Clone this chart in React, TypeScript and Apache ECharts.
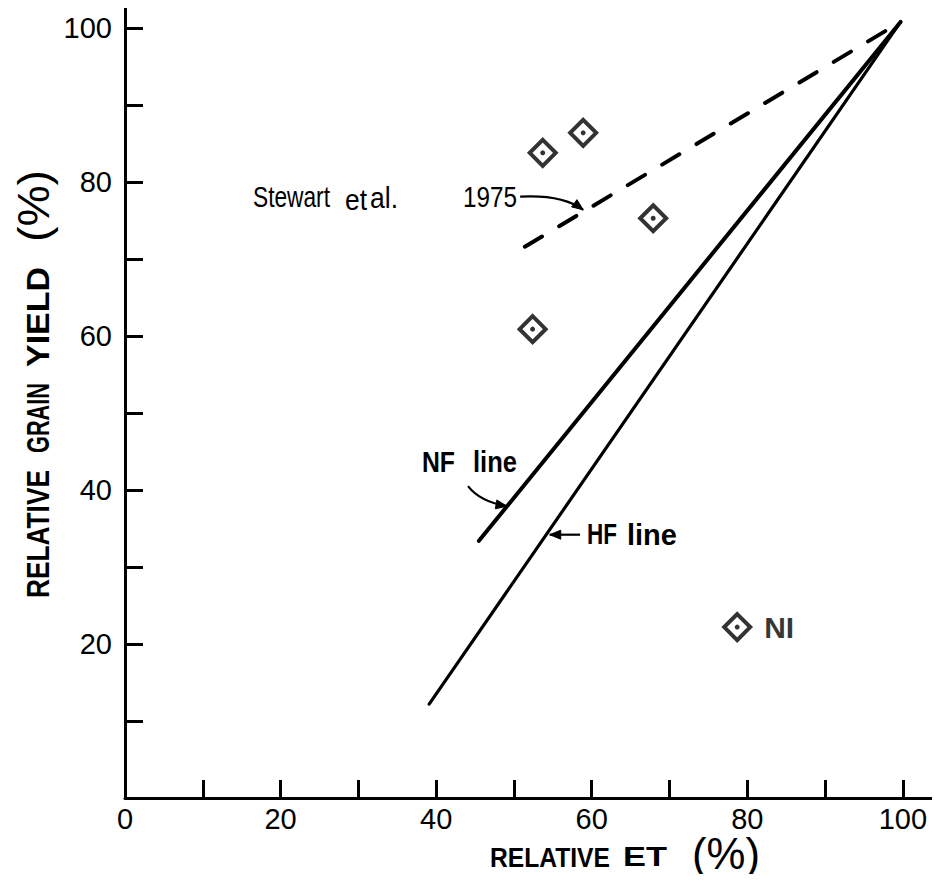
import { useEffect, useRef } from "react";
import * as echarts from "echarts";

// Axis ticks and labels (percent)
const X_TICKS = [10, 20, 30, 40, 50, 60, 70, 80, 90, 100];
const X_LABELS = [0, 20, 40, 60, 80, 100];
const Y_TICKS = [10, 20, 30, 40, 50, 60, 70, 80, 90, 100];
const Y_LABELS = [20, 40, 60, 80, 100];

// Observed relative ET vs relative grain yield
const observed: [number, number][] = [
  [53.7, 83.8],
  [58.9, 86.4],
  [67.9, 75.3],
  [52.4, 60.9],
];
const niPoint: [number, number][] = [[78.7, 22.2]];

// Reference lines
const stewartLine: [number, number][] = [
  [51.4, 71.6],
  [99.7, 100.8],
];
const nfLine: [number, number][] = [
  [45.5, 33.4],
  [99.7, 100.8],
];
const hfLine: [number, number][] = [
  [39.1, 12.2],
  [99.7, 100.8],
];

// Annotation anchors in data units: [start, control, end]
const stewartArrow: [number, number][] = [
  [50.8, 78.1],
  [56.2, 78.4],
  [58.9, 76.4],
];
const nfArrow: [number, number][] = [
  [44.1, 40.5],
  [45.6, 38.5],
  [49.1, 37.9],
];
const hfArrow: [number, number][] = [
  [58.5, 34.2],
  [56.5, 34.2],
  [54.6, 34.2],
];

const FONT = '"Liberation Sans", Arial, sans-serif';

const measureCtx = document.createElement("canvas").getContext("2d")!;
function fitScale(text: string, font: string, width: number) {
  measureCtx.font = font;
  const w = measureCtx.measureText(text).width;
  return w > 0 ? width / w : 1;
}

// A word squeezed horizontally to a given width, keeping its height
function word(
  text: string,
  x: number,
  y: number,
  width: number,
  size: number,
  weight: string,
  rotation = 0
) {
  const font = `${weight} ${size}px ${FONT}`;
  return {
    type: "text",
    x,
    y,
    rotation,
    scaleX: fitScale(text, font, width),
    scaleY: 1,
    silent: true,
    style: {
      text,
      font,
      fill: "#000",
      textAlign: "left",
      textVerticalAlign: "middle",
      align: "left",
      verticalAlign: "middle",
    },
  };
}

function arrowHead(tip: number[], from: number[], len = 11, half = 4.5) {
  const dx = tip[0] - from[0];
  const dy = tip[1] - from[1];
  const d = Math.hypot(dx, dy) || 1;
  const ux = dx / d;
  const uy = dy / d;
  const bx = tip[0] - ux * len;
  const by = tip[1] - uy * len;
  return [
    [tip[0], tip[1]],
    [bx - uy * half, by + ux * half],
    [bx + uy * half, by - ux * half],
  ];
}

export default function App() {
  const ref = useRef<HTMLDivElement>(null);

  useEffect(() => {
    if (!ref.current) return;
    const chart = echarts.init(ref.current, undefined, { renderer: "svg" });

    const diamondStyle = {
      color: "#fff",
      borderColor: "#000",
      borderWidth: 4,
    };

    chart.setOption({
      animation: false,
      backgroundColor: "#fff",
      grid: {
        left: 125,
        right: 6,
        top: 5,
        bottom: 84,
        containLabel: false,
        outerBoundsMode: "none",
      },
      xAxis: {
        type: "value",
        min: 0,
        max: 104,
        splitLine: { show: false },
        axisLine: { show: true, onZero: false, lineStyle: { color: "#000", width: 3 } },
        axisTick: {
          show: true,
          inside: true,
          length: 18,
          customValues: X_TICKS,
          lineStyle: { color: "#000", width: 3 },
        },
        axisLabel: {
          customValues: X_LABELS,
          color: "#000",
          fontFamily: FONT,
          fontSize: 29,
          margin: 6,
        },
      },
      yAxis: {
        type: "value",
        min: 0,
        max: 103,
        splitLine: { show: false },
        axisLine: { show: true, onZero: false, lineStyle: { color: "#000", width: 3 } },
        axisTick: {
          show: true,
          inside: true,
          length: 18,
          customValues: Y_TICKS,
          lineStyle: { color: "#000", width: 3 },
        },
        axisLabel: {
          customValues: Y_LABELS,
          color: "#000",
          fontFamily: FONT,
          fontSize: 29,
          margin: 13,
        },
      },
      series: [
        {
          name: "Stewart et al. 1975",
          type: "line",
          data: stewartLine,
          showSymbol: false,
          silent: true,
          lineStyle: { color: "#000", width: 4, type: [20, 20], cap: "round" },
          z: 2,
        },
        {
          name: "NF line",
          type: "line",
          data: nfLine,
          showSymbol: false,
          silent: true,
          lineStyle: { color: "#000", width: 4, cap: "round" },
          z: 2,
        },
        {
          name: "HF line",
          type: "line",
          data: hfLine,
          showSymbol: false,
          silent: true,
          lineStyle: { color: "#000", width: 3.2, cap: "round" },
          z: 2,
        },
        {
          name: "Observed",
          type: "scatter",
          data: observed,
          symbol: "diamond",
          symbolSize: 26,
          itemStyle: diamondStyle,
          z: 3,
        },
        {
          name: "NI",
          type: "scatter",
          data: niPoint,
          symbol: "diamond",
          symbolSize: 26,
          itemStyle: diamondStyle,
          label: {
            show: true,
            position: "right",
            distance: 12,
            formatter: "NI",
            color: "#000",
            fontFamily: FONT,
            fontWeight: "bold",
            fontSize: 30,
          },
          z: 3,
        },
        {
          name: "centres",
          type: "scatter",
          data: [...observed, ...niPoint],
          symbol: "circle",
          symbolSize: 5,
          itemStyle: { color: "#000" },
          silent: true,
          z: 4,
        },
      ],
    });

    const px = (p: [number, number]) =>
      chart.convertToPixel({ gridIndex: 0 }, p) as number[];

    const curve = (pts: [number, number][]) => {
      const [a, c, b] = pts.map(px);
      return [
        {
          type: "bezierCurve",
          silent: true,
          shape: { x1: a[0], y1: a[1], x2: b[0], y2: b[1], cpx1: c[0], cpy1: c[1] },
          style: { stroke: "#000", lineWidth: 2.2, fill: null },
        },
        {
          type: "polygon",
          silent: true,
          shape: { points: arrowHead(b, c) },
          style: { fill: "#000", stroke: "#000", lineWidth: 1 },
        },
      ];
    };

    const graphics: any[] = [
      // x-axis title
      word("RELATIVE", 490, 857, 120, 28, "bold"),
      word("ET", 623, 857, 44, 28, "bold"),
      word("(%)", 692, 853, 68, 44, "normal"),
      // y-axis title (reads bottom to top)
      word("RELATIVE", 38, 598, 128, 32, "bold", Math.PI / 2),
      word("GRAIN", 38, 453, 70, 32, "bold", Math.PI / 2),
      word("YIELD", 38, 367, 100, 32, "bold", Math.PI / 2),
      word("(%)", 34, 242, 72, 44, "normal", Math.PI / 2),
      // curve labels
      word("Stewart", 253, 197, 77, 30, "normal"),
      word("et", 345, 199, 22, 30, "normal"),
      word("al.", 370, 197, 28, 30, "normal"),
      word("1975", 463, 197, 54, 30, "normal"),
      word("NF", 422, 462, 33, 30, "bold"),
      word("line", 473, 462, 44, 30, "bold"),
      word("HF", 587, 534, 30, 30, "bold"),
      word("line", 627, 534, 50, 30, "bold"),
      ...curve(stewartArrow),
      ...curve(nfArrow),
      ...curve(hfArrow),
    ];

    chart.setOption({ graphic: { elements: graphics } });

    return () => chart.dispose();
  }, []);

  return <div ref={ref} style={{ width: 940, height: 882, margin: -8 }} />;
}
